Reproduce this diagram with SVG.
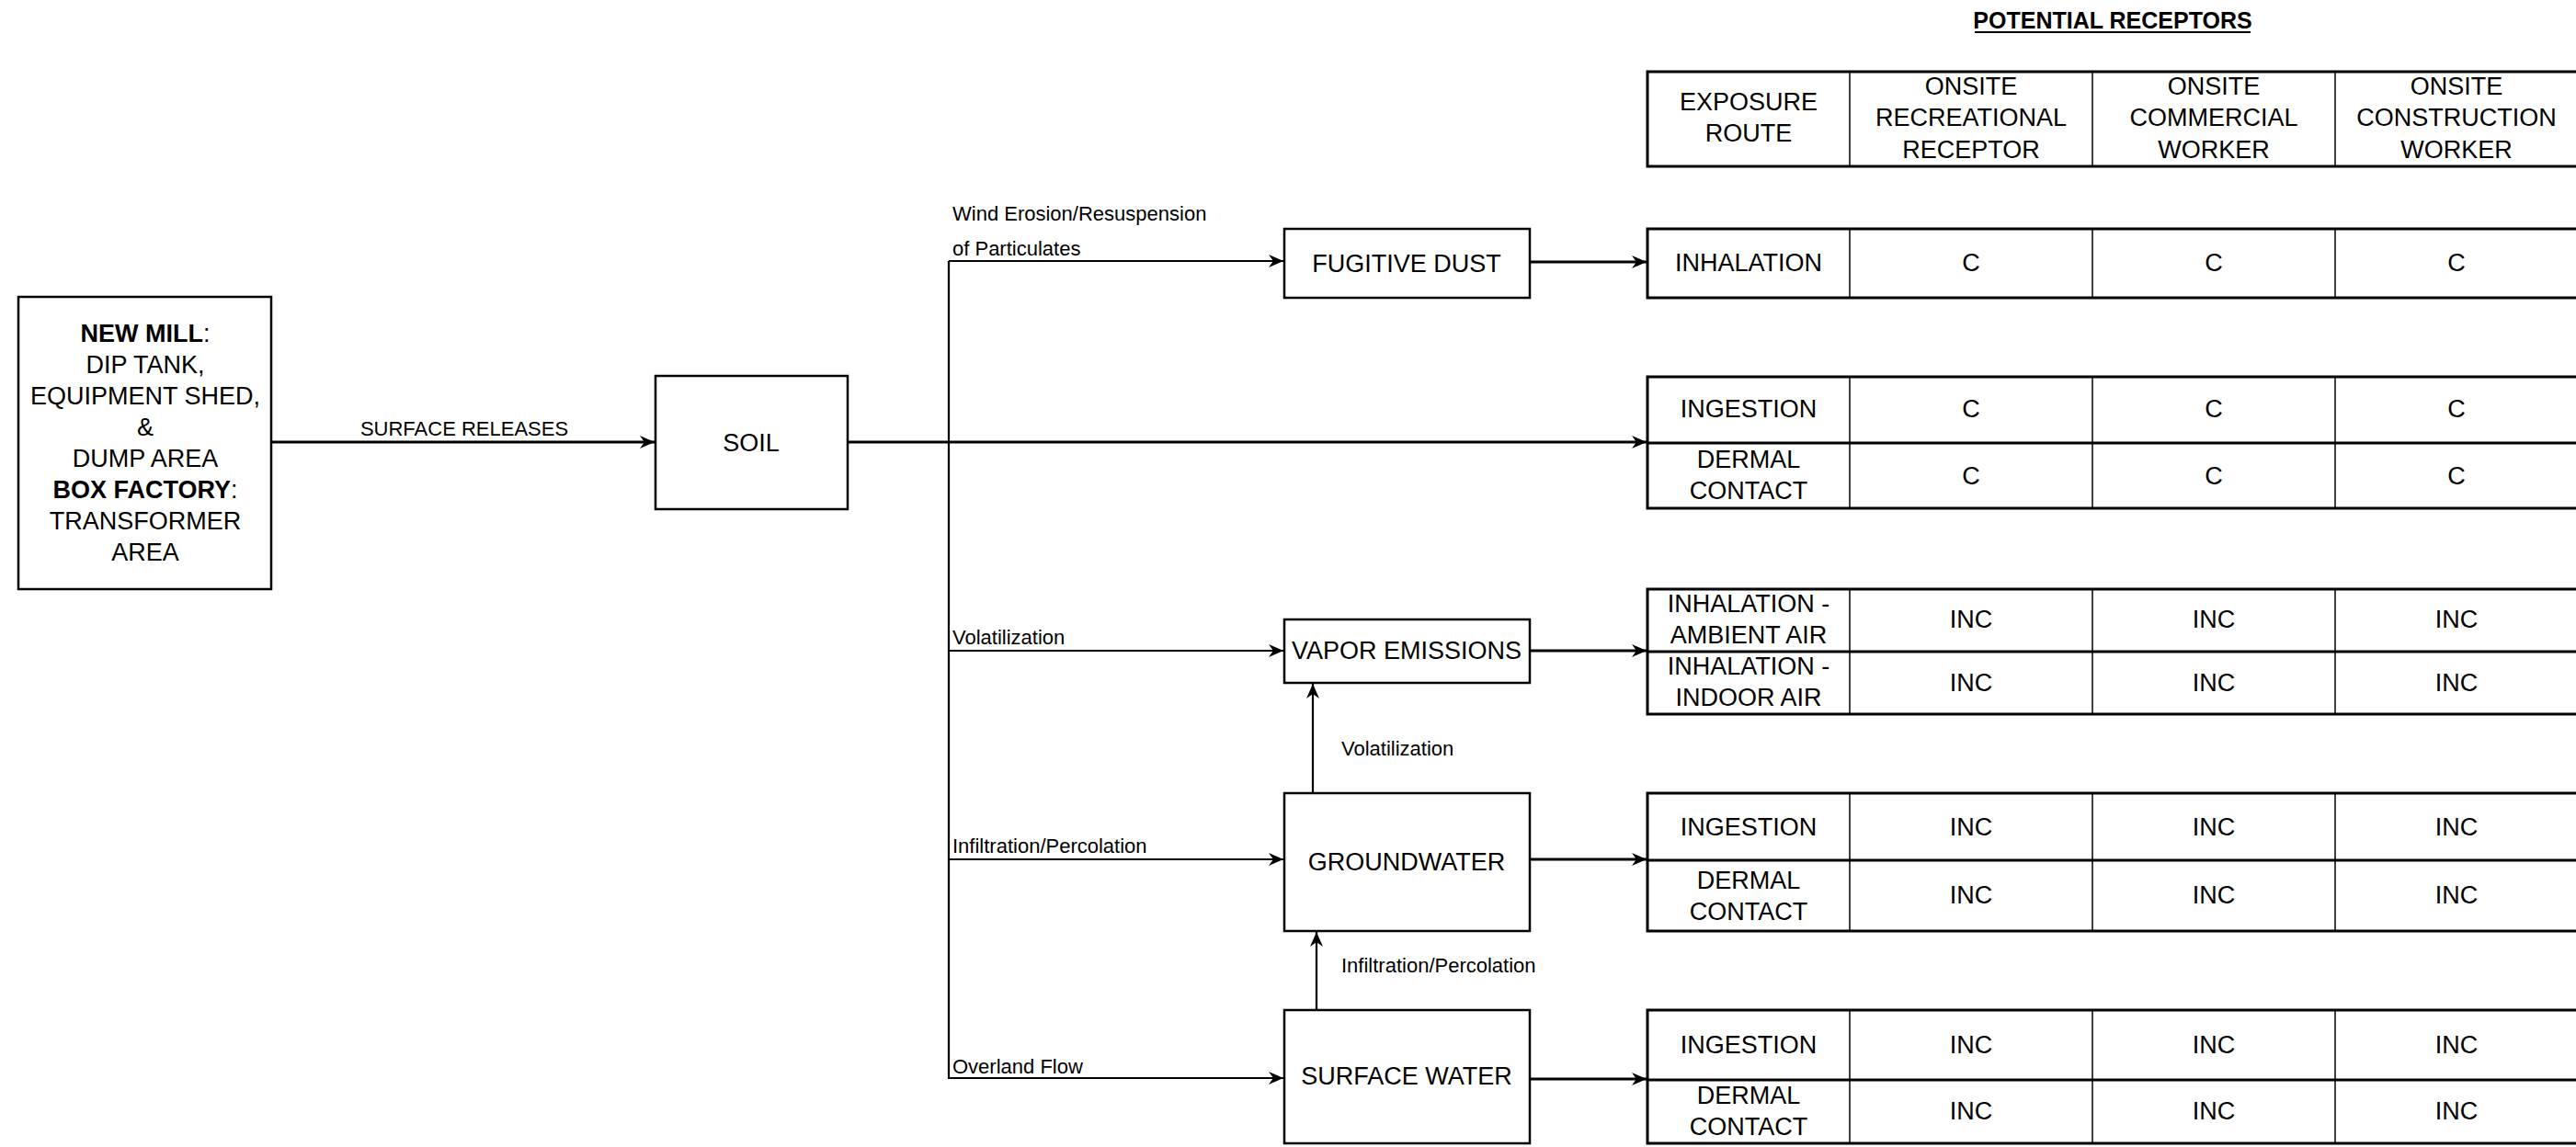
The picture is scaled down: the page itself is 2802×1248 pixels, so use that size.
<svg xmlns="http://www.w3.org/2000/svg" width="2802" height="1248" viewBox="0 0 2802 1248">
  <style>
    text { font-family: "Liberation Sans", Arial, sans-serif; fill: #000; }
    .node { font-size: 27px; text-anchor: middle; }
    .lbl { font-size: 22px; }
    .cell { font-size: 27px; text-anchor: middle; }
    .box { fill: #fff; stroke: #000; stroke-width: 2.5; }
    .tbl { fill: #fff; stroke: #000; stroke-width: 3; }
    .vline { stroke: #000; stroke-width: 1.5; }
    .hline { stroke: #000; stroke-width: 3; }
    .wire { fill: none; stroke: #000; stroke-width: 2.2; }
    .flow { fill: none; stroke: #000; stroke-width: 3; }
  </style>
  <defs>
    <marker id="arrow" viewBox="0 0 16 14" refX="16" refY="7" markerWidth="16" markerHeight="14" markerUnits="userSpaceOnUse" orient="auto">
      <path d="M0,0 L16,7 L0,14 L5,7 z" fill="#000"/>
    </marker>
  </defs>

  <rect width="2802" height="1248" fill="#fff"/>

  <!-- connectors -->
  <g id="connectors">
    <line class="flow" x1="295" y1="481" x2="712" y2="481" marker-end="url(#arrow)"/>
    <line class="flow" x1="922" y1="481" x2="1791" y2="481" marker-end="url(#arrow)"/>
    <line class="wire" x1="1032" y1="284" x2="1032" y2="1174"/>
    <line class="wire" x1="1032" y1="284" x2="1396" y2="284" marker-end="url(#arrow)"/>
    <line class="wire" x1="1032" y1="708" x2="1396" y2="708" marker-end="url(#arrow)"/>
    <line class="wire" x1="1032" y1="935" x2="1396" y2="935" marker-end="url(#arrow)"/>
    <line class="wire" x1="1032" y1="1173" x2="1396" y2="1173" marker-end="url(#arrow)"/>
    <line class="flow" x1="1664" y1="285" x2="1791" y2="285" marker-end="url(#arrow)"/>
    <line class="flow" x1="1664" y1="708" x2="1791" y2="708" marker-end="url(#arrow)"/>
    <line class="flow" x1="1664" y1="935" x2="1791" y2="935" marker-end="url(#arrow)"/>
    <line class="flow" x1="1664" y1="1174" x2="1791" y2="1174" marker-end="url(#arrow)"/>
    <line class="wire" x1="1428" y1="863" x2="1428" y2="744" marker-end="url(#arrow)"/>
    <line class="wire" x1="1432" y1="1099" x2="1432" y2="1014" marker-end="url(#arrow)"/>

    <text class="lbl" x="505" y="474" text-anchor="middle">SURFACE RELEASES</text>
    <text class="lbl" x="1036" y="240">Wind Erosion/Resuspension</text>
    <text class="lbl" x="1036" y="278">of Particulates</text>
    <text class="lbl" x="1036" y="701">Volatilization</text>
    <text class="lbl" x="1036" y="928">Infiltration/Percolation</text>
    <text class="lbl" x="1036" y="1168">Overland Flow</text>
    <text class="lbl" x="1459" y="822">Volatilization</text>
    <text class="lbl" x="1459" y="1058">Infiltration/Percolation</text>
  </g>

  <!-- source area -->
  <g id="source">
    <rect class="box" x="20" y="323" width="275" height="318"/>
    <text class="node" x="158" y="372"><tspan font-weight="bold">NEW MILL</tspan>:</text>
    <text class="node" x="158" y="406">DIP TANK,</text>
    <text class="node" x="158" y="440">EQUIPMENT SHED,</text>
    <text class="node" x="158" y="474">&amp;</text>
    <text class="node" x="158" y="508">DUMP AREA</text>
    <text class="node" x="158" y="542"><tspan font-weight="bold">BOX FACTORY</tspan>:</text>
    <text class="node" x="158" y="576">TRANSFORMER</text>
    <text class="node" x="158" y="610">AREA</text>
  </g>

  <g id="soil">
    <rect class="box" x="713" y="409" width="209" height="145"/>
    <text class="node" x="817" y="491">SOIL</text>
  </g>

  <g id="fugitive-dust">
    <rect class="box" x="1397" y="249" width="267" height="75"/>
    <text class="node" x="1530" y="296">FUGITIVE DUST</text>
  </g>

  <g id="vapor-emissions">
    <rect class="box" x="1397" y="674" width="267" height="69"/>
    <text class="node" x="1530" y="717">VAPOR EMISSIONS</text>
  </g>

  <g id="groundwater">
    <rect class="box" x="1397" y="863" width="267" height="150"/>
    <text class="node" x="1530" y="947">GROUNDWATER</text>
  </g>

  <g id="surface-water">
    <rect class="box" x="1397" y="1099" width="267" height="145"/>
    <text class="node" x="1530" y="1180">SURFACE WATER</text>
  </g>

  <!-- receptor tables -->
  <g id="title">
    <text x="2298" y="31" text-anchor="middle" font-size="25" font-weight="bold">POTENTIAL RECEPTORS</text>
    <line x1="2148" y1="35" x2="2448" y2="35" stroke="#000" stroke-width="2"/>
  </g>

  <g id="header-table">
    <rect class="tbl" x="1792" y="78" width="1014" height="103"/>
    <line class="vline" x1="2012" y1="78" x2="2012" y2="181"/>
    <line class="vline" x1="2276" y1="78" x2="2276" y2="181"/>
    <line class="vline" x1="2540" y1="78" x2="2540" y2="181"/>
    <text class="cell" x="1902" y="120">EXPOSURE</text>
    <text class="cell" x="1902" y="154">ROUTE</text>
    <text class="cell" x="2144" y="103">ONSITE</text>
    <text class="cell" x="2144" y="137">RECREATIONAL</text>
    <text class="cell" x="2144" y="172">RECEPTOR</text>
    <text class="cell" x="2408" y="103">ONSITE</text>
    <text class="cell" x="2408" y="137">COMMERCIAL</text>
    <text class="cell" x="2408" y="172">WORKER</text>
    <text class="cell" x="2672" y="103">ONSITE</text>
    <text class="cell" x="2672" y="137">CONSTRUCTION</text>
    <text class="cell" x="2672" y="172">WORKER</text>
  </g>

  <g id="dust-table">
    <rect class="tbl" x="1792" y="249" width="1014" height="75"/>
    <line class="vline" x1="2012" y1="249" x2="2012" y2="324"/>
    <line class="vline" x1="2276" y1="249" x2="2276" y2="324"/>
    <line class="vline" x1="2540" y1="249" x2="2540" y2="324"/>
    <text class="cell" x="1902" y="295">INHALATION</text>
    <text class="cell" x="2144" y="295">C</text>
    <text class="cell" x="2408" y="295">C</text>
    <text class="cell" x="2672" y="295">C</text>
  </g>

  <g id="soil-table">
    <rect class="tbl" x="1792" y="410" width="1014" height="143"/>
    <line class="hline" x1="1792" y1="482" x2="2806" y2="482"/>
    <line class="vline" x1="2012" y1="410" x2="2012" y2="553"/>
    <line class="vline" x1="2276" y1="410" x2="2276" y2="553"/>
    <line class="vline" x1="2540" y1="410" x2="2540" y2="553"/>
    <text class="cell" x="1902" y="454">INGESTION</text>
    <text class="cell" x="2144" y="454">C</text>
    <text class="cell" x="2408" y="454">C</text>
    <text class="cell" x="2672" y="454">C</text>
    <text class="cell" x="1902" y="509">DERMAL</text>
    <text class="cell" x="1902" y="543">CONTACT</text>
    <text class="cell" x="2144" y="527">C</text>
    <text class="cell" x="2408" y="527">C</text>
    <text class="cell" x="2672" y="527">C</text>
  </g>

  <g id="vapor-table">
    <rect class="tbl" x="1792" y="641" width="1014" height="136"/>
    <line class="hline" x1="1792" y1="709" x2="2806" y2="709"/>
    <line class="vline" x1="2012" y1="641" x2="2012" y2="777"/>
    <line class="vline" x1="2276" y1="641" x2="2276" y2="777"/>
    <line class="vline" x1="2540" y1="641" x2="2540" y2="777"/>
    <text class="cell" x="1902" y="666">INHALATION -</text>
    <text class="cell" x="1902" y="700">AMBIENT AIR</text>
    <text class="cell" x="2144" y="683">INC</text>
    <text class="cell" x="2408" y="683">INC</text>
    <text class="cell" x="2672" y="683">INC</text>
    <text class="cell" x="1902" y="734">INHALATION -</text>
    <text class="cell" x="1902" y="768">INDOOR AIR</text>
    <text class="cell" x="2144" y="752">INC</text>
    <text class="cell" x="2408" y="752">INC</text>
    <text class="cell" x="2672" y="752">INC</text>
  </g>

  <g id="groundwater-table">
    <rect class="tbl" x="1792" y="863" width="1014" height="150"/>
    <line class="hline" x1="1792" y1="936" x2="2806" y2="936"/>
    <line class="vline" x1="2012" y1="863" x2="2012" y2="1013"/>
    <line class="vline" x1="2276" y1="863" x2="2276" y2="1013"/>
    <line class="vline" x1="2540" y1="863" x2="2540" y2="1013"/>
    <text class="cell" x="1902" y="909">INGESTION</text>
    <text class="cell" x="2144" y="909">INC</text>
    <text class="cell" x="2408" y="909">INC</text>
    <text class="cell" x="2672" y="909">INC</text>
    <text class="cell" x="1902" y="967">DERMAL</text>
    <text class="cell" x="1902" y="1001">CONTACT</text>
    <text class="cell" x="2144" y="983">INC</text>
    <text class="cell" x="2408" y="983">INC</text>
    <text class="cell" x="2672" y="983">INC</text>
  </g>

  <g id="surface-water-table">
    <rect class="tbl" x="1792" y="1099" width="1014" height="145"/>
    <line class="hline" x1="1792" y1="1175" x2="2806" y2="1175"/>
    <line class="vline" x1="2012" y1="1099" x2="2012" y2="1244"/>
    <line class="vline" x1="2276" y1="1099" x2="2276" y2="1244"/>
    <line class="vline" x1="2540" y1="1099" x2="2540" y2="1244"/>
    <text class="cell" x="1902" y="1146">INGESTION</text>
    <text class="cell" x="2144" y="1146">INC</text>
    <text class="cell" x="2408" y="1146">INC</text>
    <text class="cell" x="2672" y="1146">INC</text>
    <text class="cell" x="1902" y="1201">DERMAL</text>
    <text class="cell" x="1902" y="1235">CONTACT</text>
    <text class="cell" x="2144" y="1218">INC</text>
    <text class="cell" x="2408" y="1218">INC</text>
    <text class="cell" x="2672" y="1218">INC</text>
  </g>
</svg>
